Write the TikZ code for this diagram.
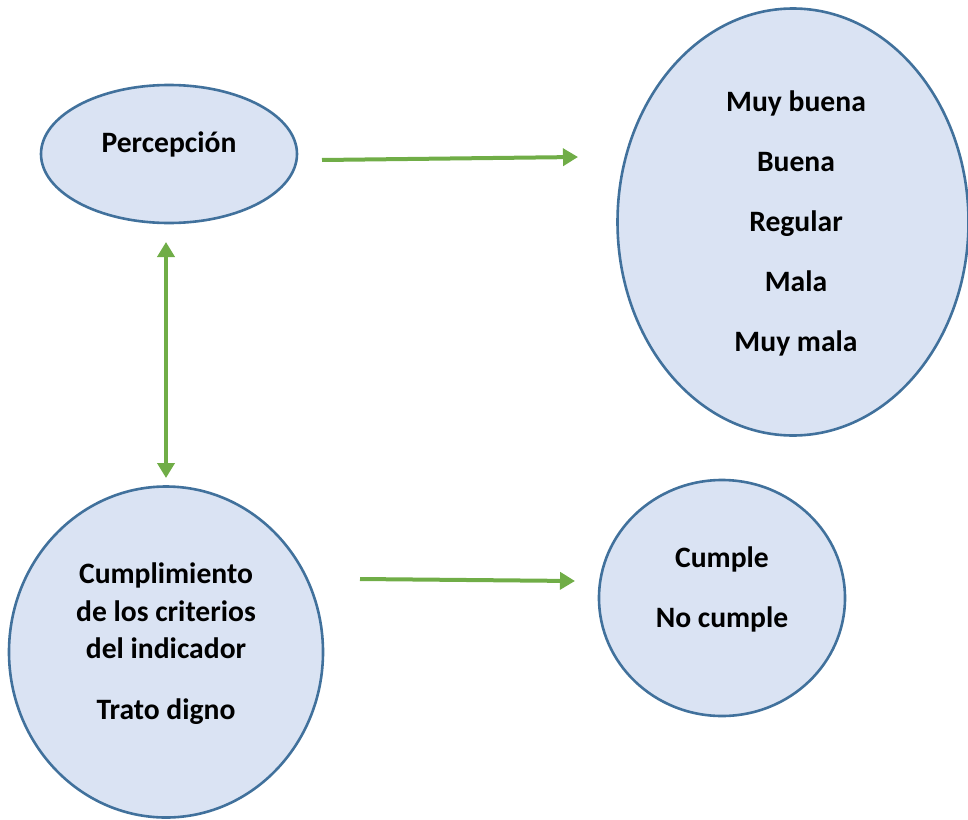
\documentclass[tikz,border=0pt]{standalone}
\usepackage{fontspec}
\setmainfont{Carlito}
\usetikzlibrary{shapes.geometric,arrows.meta}

\begin{document}
\begin{tikzpicture}[x=0.5pt,y=-0.5pt,
    burbuja/.style={ellipse, draw=bordeazul, fill=rellenoazul, line width=1.3pt, inner sep=0pt},
    etiqueta/.style={anchor=base, font=\fontsize{14.8}{17}\selectfont\bfseries},
    flecha/.style={draw=verde, line width=2pt, -{Triangle[length=7.5pt,width=8.5pt]}}]
    \definecolor{bordeazul}{RGB}{65,113,156}
    \definecolor{rellenoazul}{RGB}{218,227,243}
    \definecolor{verde}{RGB}{112,173,71}

    \useasboundingbox (0,0) rectangle (968,819);

    % Ellipses
    \node[burbuja, minimum width=128pt, minimum height=69pt] (perc) at (169,154) {};
    \node[burbuja, minimum width=175.5pt, minimum height=213.5pt] (escala) at (793,222) {};
    \node[burbuja, minimum width=157pt, minimum height=165.5pt] (cumpl) at (166,652) {};
    \node[burbuja, minimum width=123pt, minimum height=118pt] (result) at (722,598) {};

    % Texts
    \node[etiqueta] (tperc) at (169,152) {Percepción};
    \foreach \txt [count=\i] in {Muy buena, Buena, Regular, Mala, Muy mala}
        \node[etiqueta] (tesc\i) at (796,51+60*\i) {\txt};
    \foreach \txt/\y [count=\i] in {Cumplimiento/583, de los criterios/621, del indicador/658, Trato digno/719}
        \node[etiqueta] (tcum\i) at (166,\y) {\txt};
    \node[etiqueta] (tres1) at (722,567) {Cumple};
    \node[etiqueta] (tres2) at (722,627) {No cumple};

    % Arrow ends
    \coordinate (a1) at (322,160);
    \coordinate (a2) at (578,157);
    \coordinate (v1) at (166,242);
    \coordinate (v2) at (166,478);
    \coordinate (b1) at (360,579);
    \coordinate (b2) at (575,581);

    % Arrows
    \draw[flecha] (a1) -- (a2);
    \draw[flecha, {Triangle[length=7.5pt,width=8.5pt]}-{Triangle[length=7.5pt,width=8.5pt]}] (v1) -- (v2);
    \draw[flecha] (b1) -- (b2);
\end{tikzpicture}
\end{document}
